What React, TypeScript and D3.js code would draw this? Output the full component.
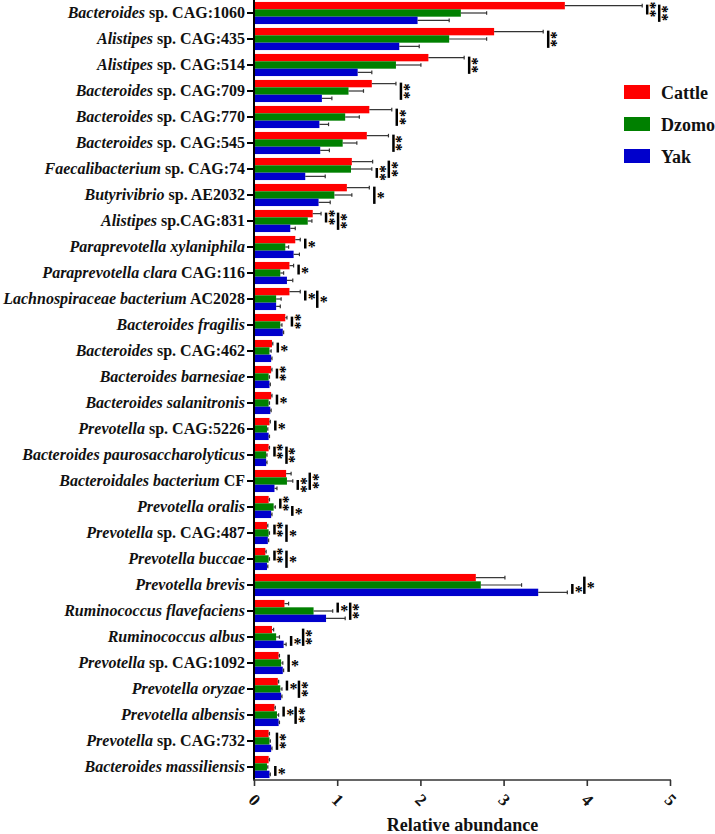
import React from "react";
import * as d3 from "d3";

const genusParts = [
  "Bacteroides", "Alistipes", "Alistipes", "Bacteroides", "Bacteroides", "Bacteroides",
  "Faecalibacterium", "Butyrivibrio", "Alistipes", "Paraprevotella xylaniphila",
  "Paraprevotella clara", "Lachnospiraceae bacterium", "Bacteroides fragilis", "Bacteroides",
  "Bacteroides barnesiae", "Bacteroides salanitronis", "Prevotella", "Bacteroides paurosaccharolyticus",
  "Bacteroidales bacterium", "Prevotella oralis", "Prevotella", "Prevotella buccae",
  "Prevotella brevis", "Ruminococcus flavefaciens", "Ruminococcus albus", "Prevotella",
  "Prevotella oryzae", "Prevotella albensis", "Prevotella", "Bacteroides massiliensis",
];
const suffixParts = [
  " sp. CAG:1060", " sp. CAG:435", " sp. CAG:514", " sp. CAG:709", " sp. CAG:770", " sp. CAG:545",
  " sp. CAG:74", " sp. AE2032", " sp.CAG:831", "",
  " CAG:116", " AC2028", "", " sp. CAG:462",
  "", "", " sp. CAG:5226", "",
  " CF", "", " sp. CAG:487", "",
  "", "", "", " sp. CAG:1092",
  "", "", " sp. CAG:732", "",
];

const seriesNames = ["Cattle", "Dzomo", "Yak"];
const seriesColors = ["#FF0000", "#008000", "#0000CC"];

const cattle = [3.73, 2.88, 2.09, 1.41, 1.38, 1.35, 1.17, 1.11, 0.70, 0.49, 0.42, 0.42, 0.37, 0.21, 0.20, 0.20, 0.18, 0.17, 0.38, 0.17, 0.15, 0.13, 2.66, 0.36, 0.21, 0.29, 0.28, 0.24, 0.17, 0.17];
const cattleErr = [0.93, 0.59, 0.43, 0.29, 0.27, 0.26, 0.25, 0.27, 0.10, 0.06, 0.05, 0.13, 0.02, 0.01, 0.01, 0.01, 0.01, 0.01, 0.06, 0.01, 0.01, 0.01, 0.35, 0.05, 0.02, 0.01, 0.01, 0.01, 0.01, 0.01];
const dzomo = [2.48, 2.34, 1.70, 1.13, 1.09, 1.06, 1.16, 0.96, 0.64, 0.37, 0.31, 0.26, 0.31, 0.18, 0.17, 0.17, 0.15, 0.14, 0.39, 0.23, 0.17, 0.17, 2.72, 0.71, 0.26, 0.32, 0.31, 0.27, 0.18, 0.15];
const dzomoErr = [0.31, 0.45, 0.30, 0.18, 0.17, 0.17, 0.25, 0.21, 0.05, 0.04, 0.04, 0.06, 0.02, 0.02, 0.01, 0.01, 0.01, 0.01, 0.07, 0.02, 0.01, 0.01, 0.49, 0.23, 0.04, 0.02, 0.02, 0.02, 0.01, 0.01];
const yak = [1.96, 1.74, 1.24, 0.81, 0.78, 0.79, 0.61, 0.77, 0.43, 0.47, 0.39, 0.26, 0.34, 0.20, 0.18, 0.19, 0.17, 0.14, 0.24, 0.20, 0.16, 0.15, 3.41, 0.86, 0.35, 0.34, 0.32, 0.29, 0.20, 0.18];
const yakErr = [0.38, 0.24, 0.17, 0.12, 0.11, 0.11, 0.24, 0.14, 0.06, 0.07, 0.07, 0.05, 0.01, 0.01, 0.01, 0.01, 0.01, 0.01, 0.03, 0.01, 0.01, 0.01, 0.35, 0.23, 0.03, 0.01, 0.01, 0.01, 0.01, 0.01];

// significance: "pair:label" ; pairs rg = Cattle-Dzomo, gb = Dzomo-Yak, rb = Cattle-Yak
const sigFirst = ["rg:**", "rb:**", "rb:**", "rb:**", "rb:**", "rb:**", "gb:**", "rb:*", "rg:**", "rg:*", "rg:*", "rg:*", "rg:**", "rg:*", "rg:**", "rg:*", "rg:*", "rg:**", "gb:**", "rg:**", "rg:**", "rg:**", "gb:*", "rg:*", "gb:*", "rb:*", "rg:*", "rg:*", "rb:**", "gb:*"];
const sigSecond = ["rb:**", "", "", "", "", "", "rb:**", "", "rb:**", "", "", "rb:*", "", "", "", "", "", "rb:**", "rb:**", "gb:*", "rb:*", "rb:*", "rb:*", "rb:**", "rb:**", "", "rb:**", "rb:**", "", ""];

const xTicks = [0, 1, 2, 3, 4, 5];
const xTitle = "Relative abundance";

const W = 715;
const H = 834;
const FONT = "'Liberation Serif', 'Times New Roman', serif";

export default function App() {
  const n = genusParts.length;
  const x = d3.scaleLinear().domain([0, 5]).range([254.5, 670.5]);
  const y = d3.scaleBand<number>().domain(d3.range(n)).range([0, 780]).paddingInner(0.15).paddingOuter(0.075);
  const sub = d3.scaleBand<number>().domain([0, 1, 2]).range([0, y.bandwidth()]);
  const values = [cattle, dzomo, yak];
  const errs = [cattleErr, dzomoErr, yakErr];
  const pairIdx: Record<string, [number, number]> = { rg: [0, 1], gb: [1, 2], rb: [0, 2] };

  const barCenter = (i: number, s: number) => (y(i) as number) + (sub(s) as number) + sub.bandwidth() / 2;
  const errEnd = (i: number, s: number) => x(values[s][i] + errs[s][i]);

  const markers: any[] = [];
  for (let i = 0; i < n; i++) {
    let prevX = -Infinity;
    [sigFirst[i], sigSecond[i]].forEach((m) => {
      if (!m) return;
      const [pair, label] = m.split(":");
      const [a, b] = pairIdx[pair];
      const maxE = Math.max(errEnd(i, a), errEnd(i, b));
      const lx = Math.max(maxE + 5, prevX + 12);
      prevX = lx;
      const y1 = Math.max(1, barCenter(i, a) - 1);
      const y2 = barCenter(i, b) + 1.5;
      markers.push({ key: `${i}-${pair}`, lx, y1, y2, label });
    });
  }

  return (
    <svg width={W} height={H} style={{ position: "absolute", left: 0, top: 0, background: "#fff" }} fontFamily={FONT}>
      {/* bars */}
      {d3.range(n).map((i) =>
        values.map((vals, s) => (
          <rect
            key={`b-${i}-${s}`}
            x={x(0)}
            y={(y(i) as number) + (sub(s) as number)}
            width={x(vals[i]) - x(0)}
            height={sub.bandwidth()}
            fill={seriesColors[s]}
          />
        ))
      )}
      {/* error bars */}
      {d3.range(n).map((i) =>
        values.map((vals, s) => {
          const cy = barCenter(i, s);
          const x1 = x(vals[i]);
          const x2 = errEnd(i, s);
          return (
            <g key={`e-${i}-${s}`} stroke="#333" strokeWidth={1.2}>
              <line x1={x1} x2={x2} y1={cy} y2={cy} />
              <line x1={x2} x2={x2} y1={cy - 1.8} y2={cy + 1.8} />
            </g>
          );
        })
      )}
      {/* significance markers */}
      {markers.map((m) => {
        const cy = Math.max(9, (m.y1 + m.y2) / 2);
        return (
          <g key={m.key}>
            <line x1={m.lx} x2={m.lx} y1={m.y1} y2={m.y2} stroke="#000" strokeWidth={2.5} />
            {m.label.length > 1 ? (
              <text
                transform={`translate(${m.lx - 2},${cy}) rotate(90)`}
                textAnchor="middle"
                fontSize={16}
                fontWeight="bold"
                fill="#000"
              >
                {m.label}
              </text>
            ) : (
              <text x={m.lx + 6.5} y={cy + 8} fontSize={16} fontWeight="bold" textAnchor="middle" fill="#000">
                {m.label}
              </text>
            )}
          </g>
        );
      })}
      {/* y axis */}
      <line x1={254} x2={254} y1={0} y2={780} stroke="#000" strokeWidth={2} />
      {d3.range(n).map((i) => {
        const cy = (y(i) as number) + y.bandwidth() / 2;
        return (
          <g key={`yl-${i}`}>
            <line x1={247} x2={254} y1={cy} y2={cy} stroke="#000" strokeWidth={2} />
            <text x={245} y={cy} dy="0.32em" textAnchor="end" fontSize={16} fontWeight="bold" fill="#111">
              <tspan fontStyle="italic">{genusParts[i]}</tspan>
              {suffixParts[i] ? <tspan>{suffixParts[i]}</tspan> : null}
            </text>
          </g>
        );
      })}
      {/* x axis */}
      <line x1={253} x2={671} y1={780} y2={780} stroke="#333" strokeWidth={1.6} />
      {xTicks.map((t) => (
        <g key={`xt-${t}`}>
          <line x1={x(t)} x2={x(t)} y1={780} y2={786} stroke="#333" strokeWidth={1.6} />
          <text
            transform={`translate(${x(t)},800) rotate(45)`}
            textAnchor="middle"
            dominantBaseline="central"
            fontSize={17}
            fontWeight="bold"
            fill="#111"
          >
            {t}
          </text>
        </g>
      ))}
      <text x={462.5} y={831} textAnchor="middle" fontSize={18} fontWeight="bold" fill="#111">
        {xTitle}
      </text>
      {/* legend */}
      {seriesNames.map((name, s) => (
        <g key={`lg-${s}`} transform={`translate(624,${85 + s * 32})`}>
          <rect x={0} y={0} width={26} height={14} fill={seriesColors[s]} />
          <text x={37} y={13.5} fontSize={18} fontWeight="bold" fill="#111">
            {name}
          </text>
        </g>
      ))}
    </svg>
  );
}
